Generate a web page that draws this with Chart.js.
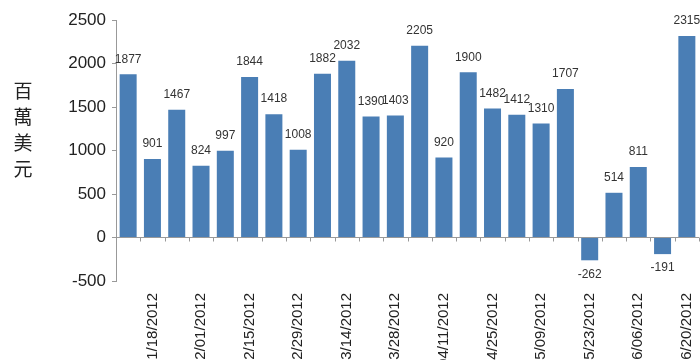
<!DOCTYPE html>
<html>
<head>
<meta charset="utf-8">
<script src="https://cdn.jsdelivr.net/npm/chart.js@4"></script>
<style>
  body { margin: 0; background: #fff; }
  #wrap { position: relative; width: 700px; height: 360px; overflow: hidden; }
  #unit {
    position: absolute; left: 12px; top: 77px; width: 22px;
    font: 19px "Noto Sans CJK TC", sans-serif; line-height: 26px;
    color: #222; text-align: center;
  }
</style>
</head>
<body>
<div id="wrap">
  <canvas id="myChart" width="700" height="380"></canvas>
  <div id="unit">百<br>萬<br>美<br>元</div>
</div>
<script>
// weekly net flow, millions USD
var weeks = ['01/11/2012', '01/18/2012', '01/25/2012', '02/01/2012', '02/08/2012', '02/15/2012',
  '02/22/2012', '02/29/2012', '03/07/2012', '03/14/2012', '03/21/2012', '03/28/2012',
  '04/04/2012', '04/11/2012', '04/18/2012', '04/25/2012', '05/02/2012', '05/09/2012',
  '05/16/2012', '05/23/2012', '05/30/2012', '06/06/2012', '06/13/2012', '06/20/2012'];
var flows = [1877, 901, 1467, 824, 997, 1844, 1418, 1008, 1882, 2032, 1390, 1403,
  2205, 920, 1900, 1482, 1412, 1310, 1707, -262, 514, 811, -191, 2315];
var yTicks = [-500, 0, 500, 1000, 1500, 2000, 2500];

var axisGray = '#999';

// value labels above (or below) each bar, plus small tick marks on the zero line
var barExtras = {
  id: 'barExtras',
  afterDatasetsDraw: function (chart) {
    var ctx = chart.ctx;
    var xs = chart.scales.x, ys = chart.scales.y;
    var y0 = ys.getPixelForValue(0);
    ctx.save();
    ctx.strokeStyle = axisGray;
    ctx.lineWidth = 1;
    for (var i = 1; i <= flows.length; i++) {
      var bx = i < flows.length
        ? (xs.getPixelForValue(i - 1) + xs.getPixelForValue(i)) / 2
        : chart.chartArea.right - 0.5;
      bx = Math.round(bx) + 0.5;
      ctx.beginPath();
      ctx.moveTo(bx, y0);
      ctx.lineTo(bx, y0 + 4);
      ctx.stroke();
    }
    ctx.font = '12px "Liberation Sans", Arial, sans-serif';
    ctx.fillStyle = '#333';
    ctx.textAlign = 'center';
    ctx.textBaseline = 'middle';
    chart.getDatasetMeta(0).data.forEach(function (bar, i) {
      var v = flows[i];
      ctx.fillText(String(v), bar.x, v >= 0 ? bar.y - 15 : bar.y + 14);
    });
    ctx.restore();
  }
};

var ctx = document.getElementById('myChart').getContext('2d');
var myChart = new Chart(ctx, {
  type: 'bar',
  data: {
    labels: weeks,
    datasets: [{
      data: flows,
      backgroundColor: '#4a7eb5',
      borderWidth: 0,
      barPercentage: 0.7,
      categoryPercentage: 1
    }]
  },
  options: {
    responsive: false,
    animation: false,
    layout: { padding: { top: 20, right: 1, left: 0, bottom: 0 } },
    plugins: {
      legend: { display: false },
      tooltip: { enabled: false }
    },
    scales: {
      x: {
        grid: { display: false, drawTicks: false },
        border: { display: false },
        ticks: {
          autoSkip: false,
          maxRotation: 90,
          minRotation: 90,
          padding: 12,
          color: '#222',
          font: { family: '"Liberation Sans", Arial, sans-serif', size: 15 },
          callback: function (v, i) { return i % 2 === 1 ? weeks[i] : ''; }
        },
        afterFit: function (s) {
          s.height = 99;
          s.paddingLeft = 0;
          s.paddingRight = 0;
        }
      },
      y: {
        min: -500,
        max: 2500,
        afterBuildTicks: function (s) {
          s.ticks = yTicks.map(function (v) { return { value: v }; });
        },
        grid: {
          color: function (c) { return c.tick && c.tick.value === 0 ? axisGray : 'rgba(0,0,0,0)'; },
          tickColor: axisGray,
          tickLength: 4
        },
        border: { color: axisGray },
        ticks: {
          padding: 6,
          color: '#222',
          font: { family: '"Liberation Sans", Arial, sans-serif', size: 17 },
          callback: function (v) { return String(v); }
        },
        afterFit: function (s) { s.width = 116; }
      }
    }
  },
  plugins: [barExtras]
});
</script>
</body>
</html>
